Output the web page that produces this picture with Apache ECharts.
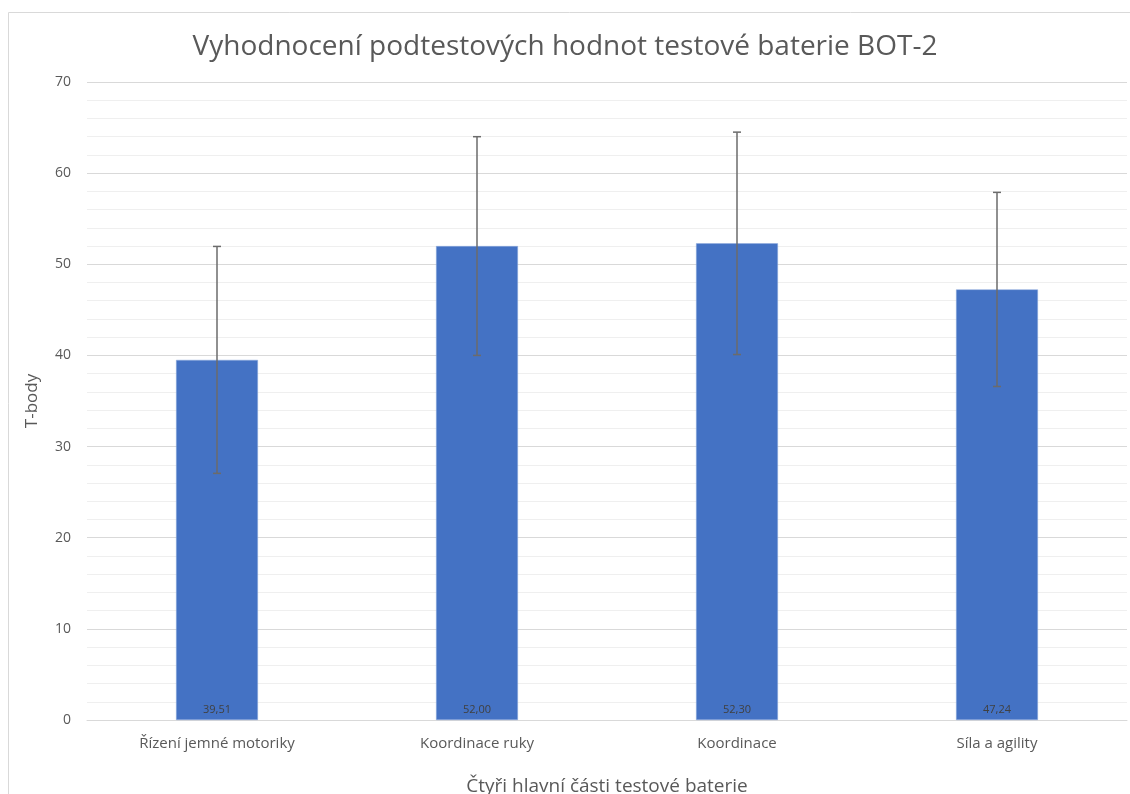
<!DOCTYPE html>
<html>
<head>
<meta charset="utf-8">
<script src="https://cdn.jsdelivr.net/npm/echarts@6/dist/echarts.min.js"></script>
<style>
  html, body { margin: 0; padding: 0; background: #fff; }
  #main { width: 1130px; height: 794px; }
</style>
</head>
<body>
<div id="main"></div>
<script>
  // data
  var categories = ['Řízení jemné motoriky', 'Koordinace ruky', 'Koordinace', 'Síla a agility'];
  var means = [39.51, 52.00, 52.30, 47.24];
  var errHalf = [12.45, 12.0, 12.2, 10.65]; // směrodatná odchylka
  var yTicks = [0, 10, 20, 30, 40, 50, 60, 70];

  var errData = means.map(function (m, i) {
    return [i, m - errHalf[i], m + errHalf[i]];
  });

  var chart = echarts.init(document.getElementById('main'));
  var txt = '#595959';
  var font = '"Open Sans", "Noto Sans", sans-serif';

  var option = {
    animation: false,
    textStyle: { fontFamily: font },
    title: {
      text: 'Vyhodnocení podtestových hodnot testové baterie BOT-2',
      left: 'center',
      top: 28,
      textStyle: { color: txt, fontSize: 28, fontWeight: 'normal', fontFamily: font }
    },
    graphic: [{
      type: 'rect',
      shape: { x: 8.5, y: 12.5, width: 1140, height: 800 },
      style: { fill: 'none', stroke: '#d9d9d9', lineWidth: 1 },
      silent: true
    }],
    grid: { left: 87, right: 3, top: 82, bottom: 74, outerBoundsMode: 'none', containLabel: false },
    xAxis: {
      type: 'category',
      data: categories,
      name: 'Čtyři hlavní části testové baterie',
      nameLocation: 'middle',
      nameGap: 57,
      nameTextStyle: { color: txt, fontSize: 19 },
      axisLine: { lineStyle: { color: '#d9d9d9' } },
      axisTick: { show: false },
      axisLabel: { color: txt, fontSize: 15, margin: 16 }
    },
    yAxis: {
      type: 'value',
      min: yTicks[0],
      max: yTicks[yTicks.length - 1],
      interval: 10,
      name: 'T-body',
      nameLocation: 'middle',
      nameGap: 46,
      nameTextStyle: { color: txt, fontSize: 17 },
      axisLine: { show: false },
      axisTick: { show: false },
      axisLabel: { color: txt, fontSize: 14, margin: 16 },
      splitLine: { lineStyle: { color: '#d9d9d9', width: 1 } },
      minorTick: { show: false, splitNumber: 5 },
      minorSplitLine: { show: true, lineStyle: { color: '#efefef', width: 1 } }
    },
    series: [
      {
        type: 'bar',
        data: means,
        barWidth: '31.5%',
        itemStyle: { color: '#4472C4', borderColor: '#8faadc', borderWidth: 0.5 },
        label: {
          show: true,
          position: 'insideBottom',
          distance: 5,
          color: '#404040',
          fontSize: 11,
          formatter: function (p) { return p.value.toFixed(2).replace('.', ','); }
        }
      },
      {
        type: 'custom',
        data: errData,
        z: 5,
        renderItem: function (params, api) {
          var x = api.value(0);
          var lo = api.coord([x, api.value(1)]);
          var hi = api.coord([x, api.value(2)]);
          var cap = 4;
          var st = { stroke: '#6b6b6b', lineWidth: 1.5 };
          return {
            type: 'group',
            children: [
              { type: 'line', shape: { x1: hi[0], y1: hi[1], x2: lo[0], y2: lo[1] }, style: st },
              { type: 'line', shape: { x1: hi[0] - cap, y1: hi[1], x2: hi[0] + cap, y2: hi[1] }, style: st },
              { type: 'line', shape: { x1: lo[0] - cap, y1: lo[1], x2: lo[0] + cap, y2: lo[1] }, style: st }
            ]
          };
        }
      }
    ]
  };

  chart.setOption(option);
</script>
</body>
</html>
